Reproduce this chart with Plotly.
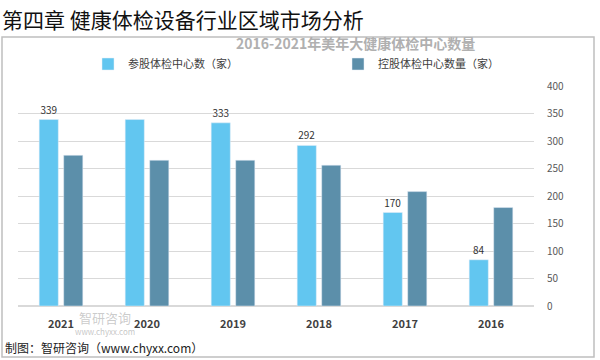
import plotly.graph_objects as go

years = ["2021", "2020", "2019", "2018", "2017", "2016"]
participating = [339, 339, 333, 292, 170, 84]
participating_labels = ["339", "", "333", "292", "170", "84"]
holding = [274, 265, 265, 256, 208, 179]
y_ticks = [0, 50, 100, 150, 200, 250, 300, 350, 400]

W, H = 600, 360
L, R, T, B = 18, 66, 86, 54
pw, ph = W - L - R, H - T - B

def px(x):
    return (x - L) / pw

def py(y):
    return (H - B - y) / ph

fig = go.Figure()
fig.add_trace(go.Bar(
    x=years, y=participating, name="参股体检中心数（家）",
    marker_color="#62C6F0", text=participating_labels, textposition="outside",
    textfont=dict(size=10, color="#333333"), cliponaxis=False,
))
fig.add_trace(go.Bar(
    x=years, y=holding, name="控股体检中心数量（家）",
    marker_color="#5C8FAA",
))

fig.update_layout(
    width=W, height=H, margin=dict(l=L, r=R, t=T, b=B),
    paper_bgcolor="white", plot_bgcolor="white",
    barmode="group", bargap=0.43, bargroupgap=0.22,
    font=dict(family="Noto Sans CJK SC, sans-serif", color="#404040"),
    showlegend=True,
    legend=dict(orientation="h", x=px(88), y=py(64), xanchor="left", yanchor="middle",
                font=dict(size=11, color="#404040"), entrywidth=205, entrywidthmode="pixels",
                traceorder="normal", bgcolor="rgba(0,0,0,0)"),
    xaxis=dict(tickfont=dict(size=11, color="#404040", family="Noto Sans CJK SC", weight="bold"),
               showline=False, ticks="", showgrid=False, ticklabelstandoff=10),
    yaxis=dict(side="right", range=[0, 400], tickvals=y_ticks, showgrid=True,
               gridcolor="#D9D9D9", gridwidth=1, zeroline=True, zerolinecolor="#D9D9D9",
               tickfont=dict(size=10, color="#595959"), ticklabelstandoff=12),
)

shapes = [
    dict(type="rect", xref="paper", yref="paper", x0=px(2), x1=px(594), y0=py(37), y1=py(357),
         line=dict(color="#BFBFBF", width=1.5), fillcolor="rgba(0,0,0,0)", layer="below"),
]
fig.update_layout(shapes=shapes)

annotations = [
    dict(text="2016-2021年美年大健康体检中心数量", xref="paper", yref="paper",
         x=px(355), y=py(43), xanchor="center", yanchor="middle", showarrow=False,
         font=dict(size=14, color="#B0B0B0", family="Noto Sans CJK SC", weight="bold")),
    dict(text="第四章 健康体检设备行业区域市场分析", xref="paper", yref="paper",
         x=px(0), y=py(19), xanchor="left", yanchor="middle", showarrow=False,
         font=dict(size=21, color="#111111", family="Noto Sans CJK SC")),
    dict(text="智研咨询", xref="paper", yref="paper",
         x=px(105), y=py(317), xanchor="center", yanchor="middle", showarrow=False,
         font=dict(size=13, color="rgba(140,140,140,0.45)", family="Noto Sans CJK SC")),
    dict(text="www.chyxx.com", xref="paper", yref="paper",
         x=px(105), y=py(331), xanchor="center", yanchor="middle", showarrow=False,
         font=dict(size=8, color="rgba(140,140,140,0.5)")),
    dict(text="制图：智研咨询（www.chyxx.com）", xref="paper", yref="paper",
         x=px(3), y=py(347), xanchor="left", yanchor="middle", showarrow=False,
         font=dict(size=12, color="#222222", family="Noto Sans CJK SC")),
]
fig.update_layout(annotations=annotations)

fig.write_html("out.html")
